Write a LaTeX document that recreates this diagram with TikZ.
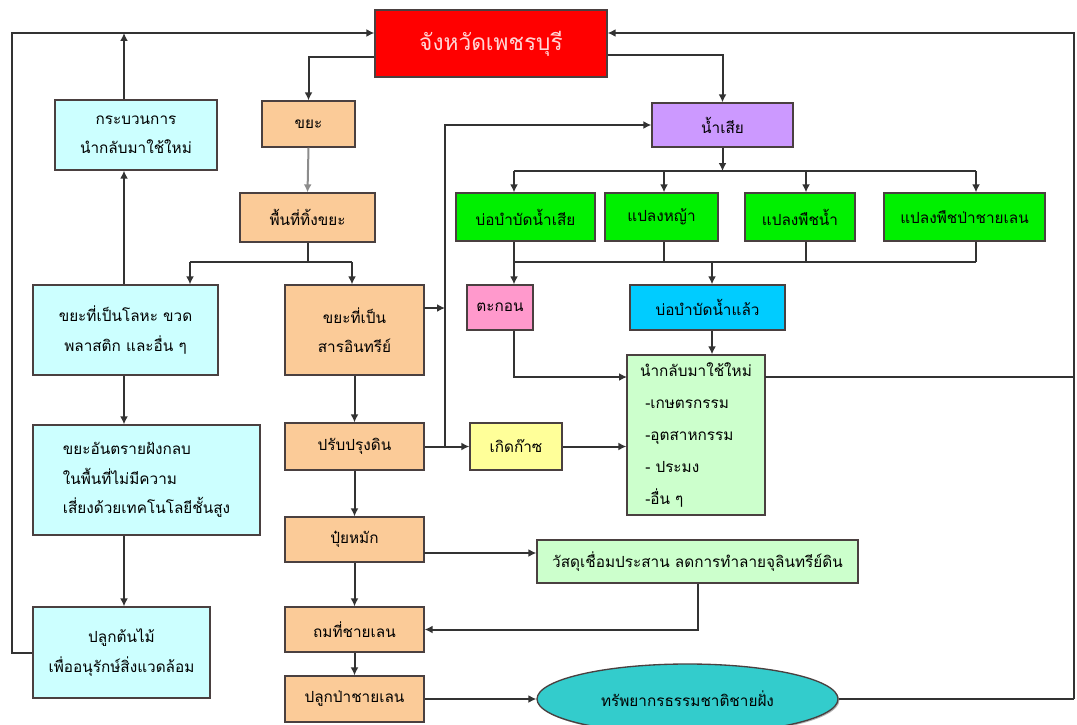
\documentclass[tikz,border=0pt]{standalone}
\usepackage{fontspec}
\newfontfamily\thai[Script=Thai]{Loma}
\usetikzlibrary{arrows.meta,shapes.geometric,shadows}

\definecolor{linec}{HTML}{333333}
\definecolor{edgec}{HTML}{4A4040}
\definecolor{peach}{HTML}{FBCB98}
\definecolor{icecyan}{HTML}{CCFFFF}
\definecolor{lime}{HTML}{00F000}
\definecolor{lilac}{HTML}{CC99FF}
\definecolor{rose}{HTML}{FF99CC}
\definecolor{sky}{HTML}{00CCFF}
\definecolor{mint}{HTML}{CCFFCC}
\definecolor{lemon}{HTML}{FFFF99}
\definecolor{lagoon}{HTML}{33CCCC}
\definecolor{signalred}{HTML}{FF0000}
\definecolor{paletext}{HTML}{FFD6D6}

\tikzset{
  conn/.style={draw=linec, line width=1.5pt},
  arr/.style={conn, -{Latex[length=6pt,width=6pt]}},
  boxbase/.style={draw=edgec, line width=1pt, inner sep=2pt, align=center,
    font=\thai\fontsize{11.5}{22}\selectfont,
    drop shadow={shadow xshift=1pt, shadow yshift=-1pt, fill=black!30, opacity=1}},
  peachbox/.style={boxbase, fill=peach},
  cyanbox/.style={boxbase, fill=icecyan},
  limebox/.style={boxbase, fill=lime},
  lilacbox/.style={boxbase, fill=lilac},
  rosebox/.style={boxbase, fill=rose},
  skybox/.style={boxbase, fill=sky},
  mintbox/.style={boxbase, fill=mint},
  lemonbox/.style={boxbase, fill=lemon},
  redbox/.style={boxbase, fill=signalred, text=paletext, font=\thai\fontsize{17}{20}\selectfont},
  lagoonell/.style={boxbase, ellipse, fill=lagoon},
}

% box from its corners (x1,y1)-(x2,y2), in pixel units
\newcommand\placebox[7]{%
  \node[#6, minimum width={(#4-#2)*0.75pt}, minimum height={(#5-#3)*0.75pt}]
    (#1) at ({(#2+#4)/2},{(#3+#5)/2}) {#7};}

\begin{document}
\begin{tikzpicture}[x=0.75pt, y=-0.75pt]
\fill[white] (0,0) rectangle (1077,724);
\useasboundingbox (0,0) rectangle (1077,724);

% province
\placebox{red}{375}{10}{607}{77}{redbox}{จังหวัดเพชรบุรี}

% solid waste branch
\placebox{waste}{262}{101}{355}{147}{peachbox}{ขยะ}
\placebox{dump}{240}{193}{375}{242}{peachbox}{พื้นที่ทิ้งขยะ}
\placebox{recyc}{55}{100}{217}{170}{cyanbox}{กระบวนการ\\นำกลับมาใช้ใหม่}
\placebox{metal}{33}{285}{218}{375}{cyanbox}{ขยะที่เป็นโลหะ ขวด\\พลาสติก และอื่น ๆ}
\placebox{organic}{285}{285}{424}{375}{peachbox}{ขยะที่เป็น\\สารอินทรีย์}
\placebox{hazard}{33}{425}{260}{535}{cyanbox,align=left}{ขยะอันตรายฝังกลบ\\ในพื้นที่ไม่มีความ\\เสี่ยงด้วยเทคโนโลยีชั้นสูง}
\placebox{plant}{33}{607}{210}{698}{cyanbox}{ปลูกต้นไม้\\เพื่ออนุรักษ์สิ่งแวดล้อม}
\placebox{soil}{285}{423}{424}{470}{peachbox}{ปรับปรุงดิน}
\placebox{compost}{285}{517}{424}{562}{peachbox}{ปุ๋ยหมัก}
\placebox{binder}{537}{540}{858}{583}{mintbox}{วัสดุเชื่อมประสาน ลดการทำลายจุลินทรีย์ดิน}
\placebox{fill}{285}{607}{424}{652}{peachbox}{ถมที่ชายเลน}
\placebox{mangrove}{285}{676}{424}{722}{peachbox}{ปลูกป่าชายเลน}
\placebox{coast}{537}{664}{838}{734}{lagoonell}{ทรัพยากรธรรมชาติชายฝั่ง}

% wastewater branch
\placebox{water}{652}{103}{793}{147}{lilacbox}{น้ำเสีย}
\placebox{g1}{456}{193}{595}{241}{limebox}{บ่อบำบัดน้ำเสีย}
\placebox{g2}{605}{193}{718}{241}{limebox}{แปลงหญ้า}
\placebox{g3}{745}{193}{855}{241}{limebox}{แปลงพืชน้ำ}
\placebox{g4}{884}{193}{1045}{241}{limebox}{แปลงพืชป่าชายเลน}
\placebox{sed}{467}{285}{533}{330}{rosebox}{ตะกอน}
\placebox{treated}{630}{285}{785}{330}{skybox}{บ่อบำบัดน้ำแล้ว}
\placebox{gas}{470}{423}{562}{470}{lemonbox}{เกิดก๊าซ}
\placebox{reuse}{627}{355}{765}{515}{mintbox,align=left,font=\thai\fontsize{11.5}{24}\selectfont}{นำกลับมาใช้ใหม่\\\ -เกษตรกรรม\\\ -อุตสาหกรรม\\\ - ประมง\\\ -อื่น ๆ}

% routing points
\coordinate (cL) at (12,33);
\coordinate (cR) at (1074,33);
\coordinate (cRB) at (1074,699);
\coordinate (lx) at (124,0);
\coordinate (bL) at (190,262);
\coordinate (bR) at (352,262);
\coordinate (orgR) at (424,308);
\coordinate (vTop) at (445,125);
\coordinate (wb1) at (514,171);
\coordinate (wb2) at (664,171);
\coordinate (wb3) at (806,171);
\coordinate (wb4) at (976,171);
\coordinate (lb1) at (514,262);
\coordinate (lb2) at (712,262);
\coordinate (reuseW) at (627,377);
\coordinate (reuseE) at (765,377);
\coordinate (cb) at (424,553);

% feedback loops around the frame
\draw[arr] (plant.west) -| (cL) -- (cL -| red.west);
\draw[arr] (recyc.north -| lx) -- (cL -| lx);
\draw[conn] (coast.east) -- (cRB);
\draw[conn] (reuseE) -- (reuseE -| cR);
\draw[arr] (cRB) -- (cR) -- (cR -| red.east);

% from the province
\draw[arr] ([yshift=-10pt]red.west) -| (waste.north);
\draw[arr] ([yshift=-8.5pt]red.east) -| (water.north);

% solid waste flow
\draw[arr, draw=black!45] (waste.south) -- (dump.north);
\draw[conn] (dump.south) -- (dump.south |- bL);
\draw[conn] (bL) -- (bR);
\draw[arr] (bL) -- (bL |- metal.north);
\draw[arr] (bR) -- (bR |- organic.north);
\draw[arr] (metal.north -| lx) -- (recyc.south -| lx);
\draw[arr] (metal.south -| lx) -- (hazard.north -| lx);
\draw[arr] (hazard.south -| lx) -- (plant.north -| lx);
\draw[arr] (organic.south) -- (soil.north);
\draw[arr] (soil.south) -- (compost.north);
\draw[arr] (compost.south) -- (fill.north);
\draw[arr] (fill.south) -- (mangrove.north);
\draw[arr] (mangrove.east) -- (mangrove.east -| coast.west);
\draw[arr] (cb) -- (cb -| binder.west);
\draw[arr] (binder.south) |- (fill.east);
\draw[arr] (orgR) -- (orgR -| vTop);
\draw[arr] (vTop |- soil.east) -- (vTop) -- (water.west);
\draw[arr] (soil.east) -- (gas.west);
\draw[arr] (gas.east) -- (gas.east -| reuse.west);

% wastewater flow
\draw[arr] (water.south) -- (water.south |- wb1);
\draw[conn] (wb1) -- (wb4);
\foreach \i in {1,...,4} {
  \draw[arr] (wb\i) -- (wb\i |- g\i.north);
  \draw[conn] (wb\i |- g\i.south) -- (wb\i |- lb1);
}
\draw[conn] (lb1) -- (lb1 -| wb4);
\draw[arr] (lb1) -- (lb1 |- sed.north);
\draw[arr] (lb2) -- (lb2 |- treated.north);
\draw[arr] (lb1 |- sed.south) |- (reuseW);
\draw[arr] (lb2 |- treated.south) -- (lb2 |- reuse.north);
\end{tikzpicture}
\end{document}
